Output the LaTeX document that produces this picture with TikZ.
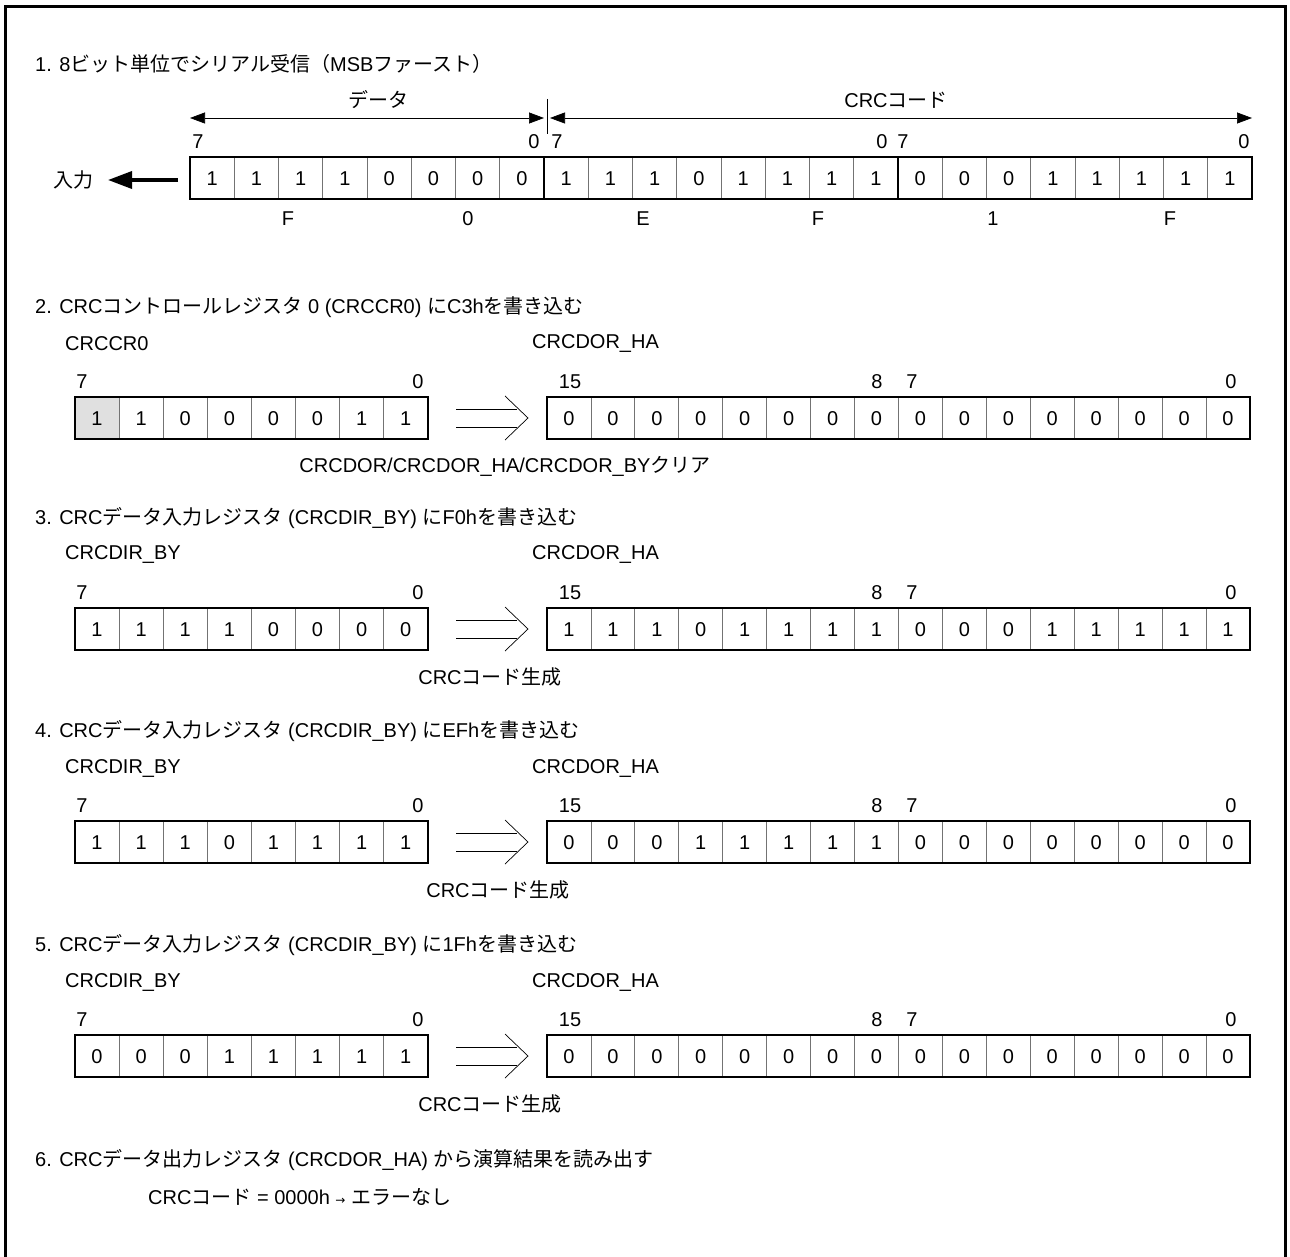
\documentclass[tikz,border=0pt]{standalone}
\usepackage{fontspec}
\setmainfont{Liberation Sans}
\newfontfamily\cjk{Noto Sans CJK JP}
\newcommand\J[1]{{\cjk #1}}
\usetikzlibrary{arrows.meta}
\tikzset{
  txt/.style={inner sep=0pt, font=\fontsize{20}{22}\selectfont},
  ttl/.style={txt, anchor=west},
  cellv/.style={inner sep=0pt, font=\fontsize{20}{22}\selectfont},
  outerbox/.style={draw=black, line width=1.5pt},
  divider/.style={draw=black!55, line width=0.8pt},
  grpdiv/.style={draw=black, line width=1.5pt},
  dimarrow/.style={line width=0.7pt, {Triangle[length=15pt,width=11pt]}-{Triangle[length=15pt,width=11pt]}},
  dblarrow/.style={line width=0.7pt},
  frame/.style={line width=3pt}
}
% register values: #1 name prefix, #2 left x, #3 cell width, #4 top y, #5 bottom y, #6 values
\newcommand\regrow[6]{%
  \foreach \v [count=\i from 0] in {#6} {
    \pgfmathsetmacro\xc{#2+(\i+0.5)*#3}
    \node[cellv] (#1\i) at (\xc,{(#4+#5)/2+1}) {\v};
  }
}
\begin{document}
\begin{tikzpicture}[x=1pt,y=-1pt]
\useasboundingbox (0,0) rectangle (1290,1257);
% frame
\draw[frame] (5.5,1260) -- (5.5,6.5) -- (1285.5,6.5) -- (1285.5,1260);

% ---------- Section 1 ----------
\node[ttl] (t1) at (35,64) {1. 8\J{ビット単位でシリアル受信（}MSB\J{ファースト）}};
\coordinate (dL) at (190,118);
\coordinate (dR) at (544,118);
\coordinate (cL) at (550,118);
\coordinate (cR) at (1252,118);
\draw[dimarrow] (dL) -- (dR);
\draw[dimarrow] (cL) -- (cR);
\coordinate (sepT) at (547,99);
\coordinate (sepB) at (547,134);
\draw[line width=0.7pt] (sepT) -- (sepB);
\node[txt] (ldata) at (378,100) {\J{データ}};
\node[txt] (lcrc) at (896,100) {CRC\J{コード}};
\foreach \lx/\lt [count=\k] in {198/7,534/0,557/7,882/0,903/7,1244/0} {
  \node[txt] (b1\k) at (\lx,142) {\lt};
}
% row
\foreach \i in {1,...,23} {
  \pgfmathsetmacro\xd{190+\i*44.25}
  \draw[divider] (\xd,157) -- (\xd,199);
}
\draw[grpdiv] (544,157) -- (544,199);
\draw[grpdiv] (898,157) -- (898,199);
\draw[outerbox] (190,157) rectangle (1252,199);
\regrow{r1c}{190}{44.25}{157}{199}{1,1,1,1,0,0,0,0,1,1,1,0,1,1,1,1,0,0,0,1,1,1,1,1}
\node[txt] (inp) at (73,180) {\J{入力}};
\coordinate (inS) at (178,180);
\coordinate (inE) at (108,180);
\draw[line width=3.5pt, -{Triangle[length=24pt,width=17pt]}] (inS) -- (inE);
\foreach \hx/\hlab [count=\k] in {288/F,468/0,643/E,818/F,993/1,1170/F} {
  \node[txt] (h\k) at (\hx,219) {\hlab};
}

% ---------- generic section macro ----------
\newcommand\regsec[9]{%
  \pgfmathsetmacro\yt{#2}
  \node[ttl] (t#1) at (35,\yt) {#3};
  \node[ttl] (ln#1) at (65,\yt+37) {#4};
  \node[ttl] (rn#1) at (532,\yt+37) {CRCDOR\_HA};
  \node[txt] (lbs#1) at (82,\yt+75) {7};
  \node[txt] (lbz#1) at (418,\yt+75) {0};
  \node[txt] (rbf#1) at (570,\yt+75) {15};
  \node[txt] (rbe#1) at (877,\yt+75) {8};
  \node[txt] (rbs#1) at (912,\yt+75) {7};
  \node[txt] (rbz#1) at (1231,\yt+75) {0};
  \pgfmathsetmacro\ya{#2+90}
  \pgfmathsetmacro\yb{#2+132}
  \fill[#9] (75,\ya) rectangle (119.1,\yb);
  \foreach \i in {1,...,7} {
    \pgfmathsetmacro\xd{75+\i*44.1}
    \draw[divider] (\xd,\ya) -- (\xd,\yb);
  }
  \draw[outerbox] (75,\ya) rectangle (428,\yb);
  \regrow{l#1c}{75}{44.1}{\ya}{\yb}{#5}
  \foreach \i in {1,...,15} {
    \pgfmathsetmacro\xd{547+\i*43.9375}
    \draw[divider] (\xd,\ya) -- (\xd,\yb);
  }
  \draw[outerbox] (547,\ya) rectangle (1250,\yb);
  \regrow{r#1c}{547}{43.9375}{\ya}{\yb}{#6}
  \pgfmathsetmacro\ym{(\ya+\yb)/2}
  \coordinate (da#1) at (456,\ym-9);
  \coordinate (db#1) at (517,\ym-9);
  \coordinate (dc#1) at (456,\ym+9);
  \coordinate (dd#1) at (517,\ym+9);
  \coordinate (cha#1) at (505,\ym-22);
  \coordinate (chb#1) at (528,\ym);
  \coordinate (chc#1) at (505,\ym+22);
  \draw[dblarrow] (da#1) -- (db#1);
  \draw[dblarrow] (dc#1) -- (dd#1);
  \draw[dblarrow] (cha#1) -- (chb#1) -- (chc#1);
  \node[txt] (cap#1) at (#8,\yt+159) {#7};
}
\regsec{2}{307}{2. CRC\J{コントロールレジスタ} 0 (CRCCR0) \J{に}C3h\J{を書き込む}}{CRCCR0}{1,1,0,0,0,0,1,1}{0,0,0,0,0,0,0,0,0,0,0,0,0,0,0,0}{CRCDOR/CRCDOR\_HA/CRCDOR\_BY\J{クリア}}{505}{black!12}
\regsec{3}{518}{3. CRC\J{データ入力レジスタ} (CRCDIR\_BY) \J{に}F0h\J{を書き込む}}{CRCDIR\_BY}{1,1,1,1,0,0,0,0}{1,1,1,0,1,1,1,1,0,0,0,1,1,1,1,1}{CRC\J{コード生成}}{490}{white}
\regsec{4}{731}{4. CRC\J{データ入力レジスタ} (CRCDIR\_BY) \J{に}EFh\J{を書き込む}}{CRCDIR\_BY}{1,1,1,0,1,1,1,1}{0,0,0,1,1,1,1,1,0,0,0,0,0,0,0,0}{CRC\J{コード生成}}{498}{white}
\regsec{5}{945}{5. CRC\J{データ入力レジスタ} (CRCDIR\_BY) \J{に}1Fh\J{を書き込む}}{CRCDIR\_BY}{0,0,0,1,1,1,1,1}{0,0,0,0,0,0,0,0,0,0,0,0,0,0,0,0}{CRC\J{コード生成}}{490}{white}

% ---------- Section 6 ----------
\node[ttl] (t6) at (35,1160) {6. CRC\J{データ出力レジスタ} (CRCDOR\_HA) \J{から演算結果を読み出す}};
\node[ttl] (t6b) at (148,1197) {CRC\J{コード} = 0000h {\fontspec{DejaVu Sans}\fontsize{12}{13}\selectfont →} \J{エラーなし}};
\end{tikzpicture}
\end{document}
